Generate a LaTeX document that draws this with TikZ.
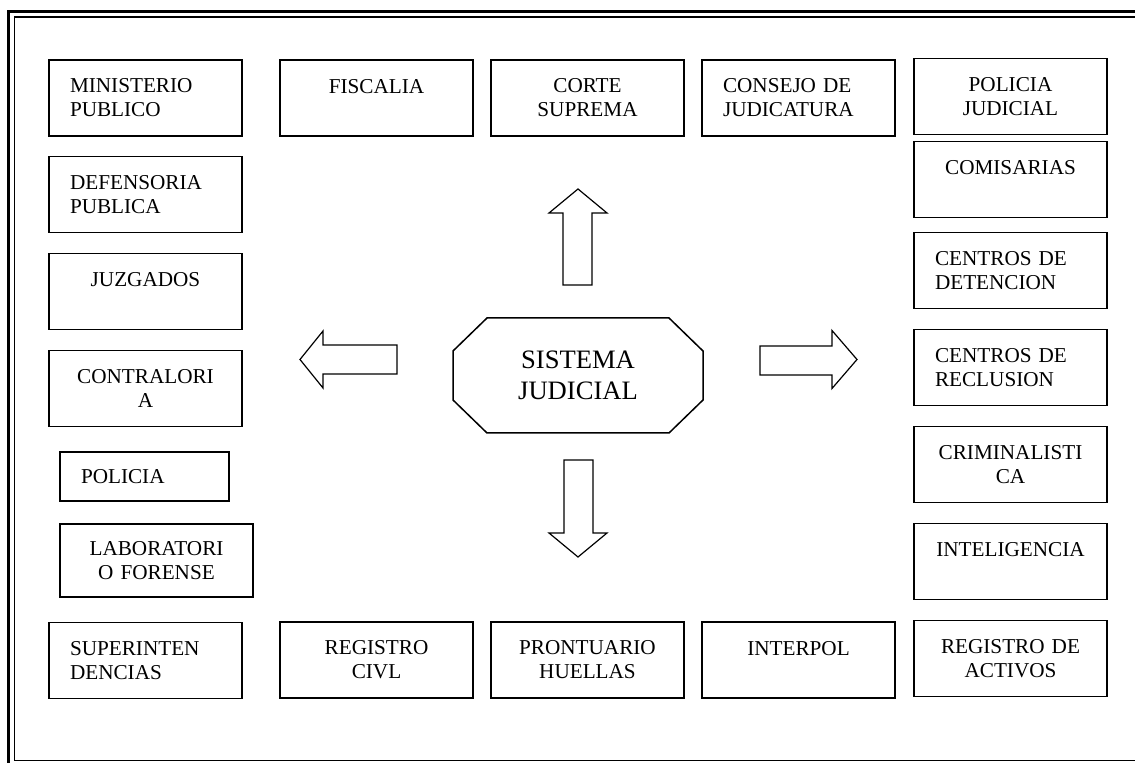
\documentclass[tikz,border=0pt]{standalone}
\usepackage{fontspec}
\setmainfont{Liberation Serif}
\usepackage{tikz}
\usetikzlibrary{calc}

\begin{document}
\begin{tikzpicture}[x=0.5pt,y=-0.5pt,
        caja/.style={draw,line width=0.75pt,minimum width=96.5pt,minimum height=38pt,
            font=\fontsize{10.6}{12}\selectfont},
        cajac/.style={caja,align=center,text width=88.5pt,inner xsep=4pt},
        cajai/.style={caja,align=left,text width=75.5pt,inner xsep=10.5pt},
        flecha/.style={draw,line width=0.6pt}]
            \path[use as bounding box,clip] (0,0) rectangle (1135,763);
            \draw[line width=1.1pt] (8.5,11.5) rectangle (1160,775);
            \draw[line width=0.7pt] (14.5,17) rectangle (1150,760.5);

            % columna izquierda
            \node[cajai] (mp) at (145.5,98) {MINISTERIO\\PUBLICO};
            \node[cajai] (dp) at (145.5,194.5) {DEFENSORIA\\PUBLICA};
            \node[cajac] (juz) at (145.5,291.5) {JUZGADOS\\\mbox{}};
            \node[cajac] (con) at (145.5,388.5) {CONTRALORI\\A};
            \node[cajai,minimum width=84.5pt,text width=63.5pt,minimum height=24.5pt] (pol) at (144.5,476.5) {POLICIA};
            \node[cajac,minimum height=36.5pt] (lab) at (156.5,560.5) {LABORATORI\\O FORENSE};
            \node[cajai] (sup) at (145.5,660.5) {SUPERINTEN\\DENCIAS};

            % fila superior
            \node[cajac] (fis) at (376.5,98) {FISCALIA\\\mbox{}};
            \node[cajac] (cs) at (587.5,98) {CORTE\\SUPREMA};
            \node[cajai] (cj) at (798.5,98) {CONSEJO DE\\JUDICATURA};

            % columna derecha
            \node[cajac] (pj) at (1010.5,96.5) {POLICIA\\JUDICIAL};
            \node[cajac] (com) at (1010.5,179.5) {COMISARIAS\\\mbox{}};
            \node[cajai] (cd) at (1010.5,270.5) {CENTROS DE\\DETENCION};
            \node[cajai] (cr) at (1010.5,367.5) {CENTROS DE\\RECLUSION};
            \node[cajac] (cri) at (1010.5,464.5) {CRIMINALISTI\\CA};
            \node[cajac] (int) at (1010.5,561.5) {INTELIGENCIA\\\mbox{}};
            \node[cajac] (ra) at (1010.5,658.5) {REGISTRO DE\\ACTIVOS};

            % fila inferior
            \node[cajac] (rc) at (376.5,660) {REGISTRO\\CIVL};
            \node[cajac] (ph) at (587.5,660) {PRONTUARIO\\HUELLAS};
            \node[cajac] (ip) at (798.5,660) {INTERPOL\\\mbox{}};

            % centro
            \node[align=center,font=\fontsize{13.3}{15.8}\selectfont] (sj) at (578,375.5) {SISTEMA\\JUDICIAL};
            \draw[line width=0.75pt] ($(sj)+(-125,-24.5)$) -- ++(34,-33) -- ++(182,0) -- ++(34,33)
                -- ++(0,49) -- ++(-34,33) -- ++(-182,0) -- ++(-34,-33) -- cycle;

            \coordinate (arr) at (578,189);
            \coordinate (aba) at (578,557);
            \coordinate (izq) at (300,359.5);
            \coordinate (der) at (857,359.5);
            \draw[flecha] (arr) -- ++(29,24) -- ++(-15,0) -- ++(0,72) -- ++(-29,0) -- ++(0,-72) -- ++(-14,0) -- cycle;
            \draw[flecha] (aba) -- ++(29,-24) -- ++(-14,0) -- ++(0,-73) -- ++(-29,0) -- ++(0,73) -- ++(-15,0) -- cycle;
            \draw[flecha] (izq) -- ++(23,-28.5) -- ++(0,14) -- ++(74,0) -- ++(0,29) -- ++(-74,0) -- ++(0,14) -- cycle;
            \draw[flecha] (der) -- ++(-25,-29) -- ++(0,15.5) -- ++(-72,0) -- ++(0,29) -- ++(72,0) -- ++(0,13.5) -- cycle;
\end{tikzpicture}
\end{document}
